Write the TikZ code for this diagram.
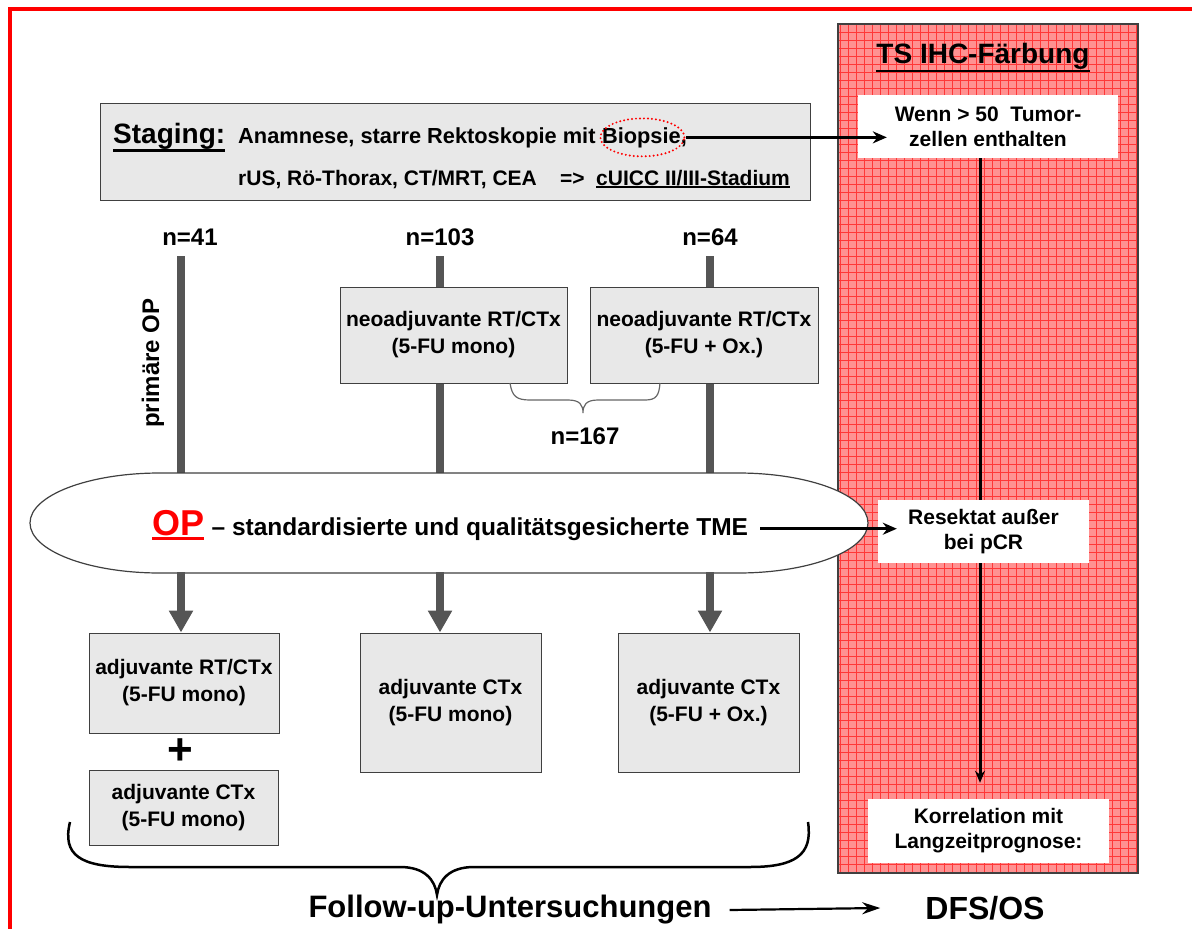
\documentclass[tikz,border=0pt]{standalone}
\usepackage{fontspec}
\setmainfont{Liberation Sans}
\usetikzlibrary{arrows.meta,shapes.geometric,calc}
\definecolor{boxgray}{HTML}{E8E8E8}
\definecolor{bordergray}{HTML}{404040}
\definecolor{bargray}{HTML}{555555}
\definecolor{panelfill}{RGB}{255,145,145}
\definecolor{gridred}{RGB}{255,55,55}
\begin{document}
\begin{tikzpicture}[x=1pt,y=-1pt,
 every node/.style={font=\bfseries},
 gbox/.style={draw=bordergray, line width=1pt, fill=boxgray, align=center, inner sep=0pt, font=\fontsize{21}{27}\selectfont\bfseries},
 wbox/.style={fill=white, align=center, inner sep=0pt, font=\fontsize{21}{25}\selectfont\bfseries},
 txt/.style={inner sep=0pt, anchor=base west, font=\fontsize{21.8}{25}\selectfont\bfseries},
 txtb/.style={inner sep=0pt, anchor=base west, font=\fontsize{21}{25}\selectfont\bfseries},
 lbl/.style={inner sep=0pt, font=\fontsize{24}{28}\selectfont\bfseries},
 bar/.style={bargray, line width=8pt},
 bararrow/.style={bargray, line width=8pt, -{Triangle[width=23pt,length=22pt]}},
 blackarrow/.style={black, line width=3pt, -{Stealth[length=14pt,width=12pt]}},
 bracegray/.style={bordergray!80, line width=1.2pt},
]
\useasboundingbox (0,0) rectangle (1192,929);
% red frame
\draw[red, line width=4pt] (10,940) -- (10,9) -- (1200,9);

% right panel
\node[fill=panelfill, minimum width=300pt, minimum height=849pt, inner sep=0pt] (panel) at (988,448.5) {};
\begin{scope}
\clip (838,24) rectangle (1138,873);
\draw[gridred, line width=1pt, step=8pt] (838,24) grid (1138,873);
\end{scope}
\draw[bordergray, line width=1.5pt] (panel.north west) rectangle (panel.south east);
\node[inner sep=0pt, font=\fontsize{28}{32}\selectfont\bfseries] (ts) at (983,56) {TS IHC-Färbung};
\draw[line width=2.5pt] ([yshift=-1.5pt]ts.south west) -- ([yshift=-1.5pt]ts.south east);
\node[wbox, minimum width=260pt, minimum height=63pt] (wenn) at (988,126.5) {Wenn > 50~~Tumor-\\zellen enthalten};
\node[wbox, minimum width=241pt, minimum height=64pt] (korr) at (988.5,831) {Korrelation mit\\Langzeitprognose:};
\draw[line width=3pt, -{Stealth[length=12pt,width=10pt]}] ($(wenn.south)+(-8,0)$) -- ($(korr.north)+(-8.5,-16)$);
\node[wbox, minimum width=211pt, minimum height=63pt] (res) at (983.5,531.5) {Resektat außer\\bei pCR};

% staging box
\node[gbox, minimum width=710pt, minimum height=97pt] (stagebox) at (455,151.5) {};
\node[inner sep=0pt, anchor=base west, font=\fontsize{28}{30}\selectfont\bfseries] (stg) at (113,143) {Staging:};
\draw[line width=2.5pt] ([yshift=-1.5pt]stg.south west) -- ([yshift=-1.5pt]stg.south east);
\node[txt] (l1a) at (238,143) {Anamnese, starre Rektoskopie mit};
\node[txt] (biotxt) at ($(l1a.base east)+(6,0)$) {Biopsie,};
\node[ellipse, draw=red, line width=2.2pt, line cap=round, dash pattern=on 0pt off 4pt, minimum width=84pt, minimum height=38pt, inner sep=0pt] (bio) at ($(biotxt.center)+(-2,0)$) {};
\node[txtb] (l2a) at (238,185) {rUS, Rö-Thorax, CT/MRT, CEA};
\node[txtb] (l2b) at (560,185) {=>};
\node[txtb] (l2c) at (596,185) {cUICC II/III-Stadium};
\draw[line width=2pt] ([yshift=-1.5pt]l2c.south west) -- ([yshift=-1.5pt]l2c.south east);
\draw[blackarrow] (bio.east) -- ($(bio.east -| wenn.west)+(29,0)$);

% counts
\node[lbl] (n41) at (190,237) {n=41};
\node[lbl] (n103) at (440,237) {n=103};
\node[lbl] (n64) at (710,237) {n=64};
\coordinate (b1) at (181,256);
\coordinate (b2) at (440,256);
\coordinate (b3) at (710,256);
\coordinate (optop) at (0,474);
\coordinate (opbot) at (0,572);

\node[gbox, minimum width=227pt, minimum height=96pt] (neo1) at (453.5,335) {neoadjuvante RT/CTx\\(5-FU mono)};
\node[gbox, minimum width=228pt, minimum height=96pt] (neo2) at (704,335) {neoadjuvante RT/CTx\\(5-FU + Ox.)};
\node[lbl, rotate=90] (prim) at (153,363) {primäre OP};

\draw[bar] (b1) -- (b1 |- optop);
\draw[bar] (b2) -- (b2 |- neo1.north);
\draw[bar] (b2 |- neo1.south) -- (b2 |- optop);
\draw[bar] (b3) -- (b3 |- neo2.north);
\draw[bar] (b3 |- neo2.south) -- (b3 |- optop);

% small brace n=167
\draw[bracegray] (510,383) .. controls (512,396) and (516,400) .. (530,400) -- (568,400)
  .. controls (580,400) and (583,405) .. (583,413)
  .. controls (583,405) and (586,400) .. (598,400) -- (645,400)
  .. controls (656,400) and (659,396) .. (660,383);
\node[lbl] (n167) at (585,436) {n=167};

% OP shape
\draw[fill=white, draw=bordergray, line width=1.2pt] (160,473) -- (738,473)
  arc[start angle=90, end angle=-90, x radius=130pt, y radius=50pt] -- (160,573)
  arc[start angle=-90, end angle=-270, x radius=130pt, y radius=50pt] -- cycle;
\node[inner sep=0pt, anchor=base west, text=red, font=\fontsize{36}{40}\selectfont\bfseries] (op) at (152,535) {OP};
\draw[red, line width=3pt] ([yshift=-3pt]op.south west) -- ([yshift=-3pt]op.south east);
\node[inner sep=0pt, anchor=base west, font=\fontsize{24.5}{28}\selectfont\bfseries] (optext) at ($(op.base east)+(7,0)$) {– standardisierte und qualitätsgesicherte TME};
\draw[blackarrow] ($(optext.east)+(12,0)$) -- ($(optext.east -| res.west)+(19,0)$);

% bottom boxes
\node[gbox, minimum width=190pt, minimum height=100pt] (a1) at (184,683) {adjuvante RT/CTx\\(5-FU mono)};
\node[font=\fontsize{44}{44}\selectfont\bfseries, inner sep=0pt] (plus) at (180,752) {+};
\node[gbox, minimum width=189pt, minimum height=75pt] (a2) at (183.5,807.5) {adjuvante CTx\\(5-FU mono)};
\node[gbox, minimum width=181pt, minimum height=139pt] (bm) at (450.5,702.5) {adjuvante CTx\\(5-FU mono)};
\node[gbox, minimum width=181pt, minimum height=139pt] (br) at (708.5,702.5) {adjuvante CTx\\(5-FU + Ox.)};

\draw[bararrow] (b1 |- opbot) -- (b1 |- a1.north);
\draw[bararrow] (b2 |- opbot) -- (b2 |- bm.north);
\draw[bararrow] (b3 |- opbot) -- (b3 |- br.north);

% big brace
\draw[black, line width=2.5pt] (70,822) .. controls (62,855) and (80,867) .. (130,867) -- (400,867)
  .. controls (425,867) and (435,880) .. (437,895)
  .. controls (439,880) and (449,867) .. (474,867) -- (750,867)
  .. controls (795,867) and (813,855) .. (808,822);

\node[inner sep=0pt, font=\fontsize{31}{34}\selectfont\bfseries] (fu) at (510,910) {Follow-up-Untersuchungen};
\node[inner sep=0pt, font=\fontsize{32}{34}\selectfont\bfseries] (dfs) at (985,908) {DFS/OS};
\draw[line width=2.2pt, -{Stealth[length=18pt,width=12pt]}] ($(fu.east)+(18,0)$) -- ($(dfs.west)+(-45,0)$);
\end{tikzpicture}
\end{document}
